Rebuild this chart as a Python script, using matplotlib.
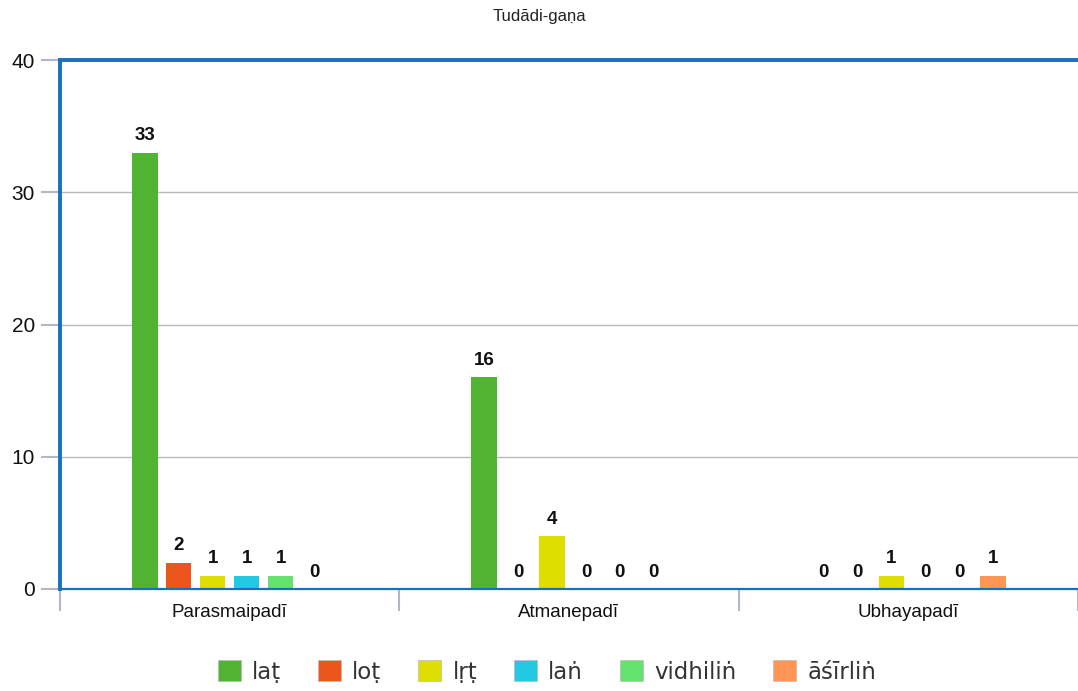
import matplotlib
matplotlib.use("Agg")
import matplotlib.pyplot as plt
from matplotlib.patches import Patch
import numpy as np

title = "Tudādi-gaṇa"
categories = ["Parasmaipadī", "Atmanepadī", "Ubhayapadī"]
series_names = ["laṭ", "loṭ", "lṛṭ", "laṅ", "vidhiliṅ", "āśīrliṅ"]
series_values = {
    "laṭ": [33, 16, 0],
    "loṭ": [2, 0, 0],
    "lṛṭ": [1, 4, 1],
    "laṅ": [1, 0, 0],
    "vidhiliṅ": [1, 0, 0],
    "āśīrliṅ": [0, 0, 1],
}
series_colors = ["#50b332", "#ec561d", "#dedf00", "#22c9e2", "#65e26e", "#ff9655"]
y_ticks = [0, 10, 20, 30, 40]

plt.rcParams["font.family"] = ["Liberation Sans", "DejaVu Sans"]

fig = plt.figure(figsize=(10.78, 6.91), dpi=100)
ax = fig.add_axes([60 / 1078, 102 / 691, 1018 / 1078, 529 / 691])

blue = "#1a6fc0"
x = np.arange(len(categories))
step = 0.1
width = 0.075
n = len(series_names)

for i, name in enumerate(series_names):
    vals = series_values[name]
    pos = x + (i - (n - 1) / 2) * step
    ax.bar(pos, vals, width=width, color=series_colors[i], zorder=3)
    for px, v in zip(pos, vals):
        ax.annotate(str(v), (px, v), xytext=(0, 6), textcoords="offset points",
                    ha="center", va="bottom", fontsize=13.5, fontweight="bold",
                    color="#111111", zorder=4)

ax.set_xlim(-0.5, 2.494)
ax.set_ylim(0, 40)
ax.set_yticks(y_ticks)
ax.set_yticklabels([str(t) for t in y_ticks], fontsize=15, color="#111111")
ax.grid(axis="y", color="#b8b8b8", linewidth=1, zorder=0)

# category labels centred, ticks on category boundaries
ax.set_xticks(x)
ax.set_xticklabels(categories, fontsize=13.5, color="#111111")
ax.tick_params(axis="x", length=0, pad=11)
ax.set_xticks([-0.5, 0.5, 1.5, 2.5], minor=True)
ax.tick_params(axis="x", which="minor", length=16, width=1.5, color="#b0b8c8")
ax.tick_params(axis="y", length=14, width=1.5, color="#b0b8c8", pad=4)

ax.spines["right"].set_visible(False)
ax.spines["left"].set_color(blue)
ax.spines["left"].set_linewidth(2.8)
ax.spines["top"].set_color(blue)
ax.spines["top"].set_linewidth(2.8)
ax.spines["bottom"].set_color(blue)
ax.spines["bottom"].set_linewidth(1.6)
ax.spines["bottom"].set_zorder(5)

fig.text(0.5, 1 - 16 / 691, title, ha="center", va="center", fontsize=12,
         color="#222222")

handles = [Patch(facecolor=c, edgecolor="#bbbbbb", linewidth=0.5) for c in series_colors]
leg = fig.legend(handles, series_names, loc="center",
                 bbox_to_anchor=(0.5 + 8 / 1078, 1 - 672 / 691),
                 ncol=6, frameon=False, handlelength=1.0, handleheight=1.0,
                 columnspacing=1.6, handletextpad=0.5,
                 prop={"family": ["DejaVu Sans"], "size": 16.5})
for t in leg.get_texts():
    t.set_color("#333333")

fig.savefig("out.png", dpi=100)
